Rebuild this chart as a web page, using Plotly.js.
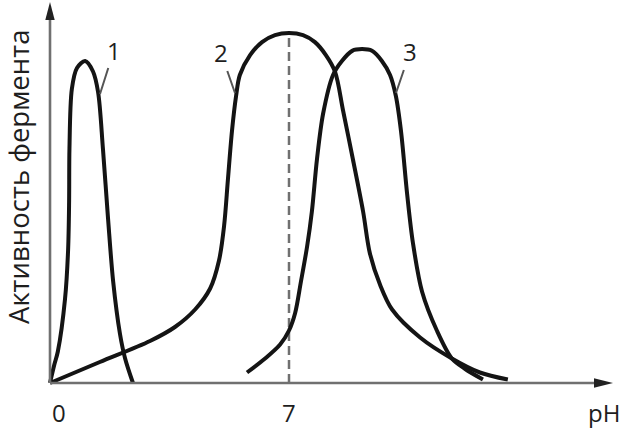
<!DOCTYPE html>
<html>
<head>
<meta charset="utf-8">
<script src="https://cdn.plot.ly/plotly-3.0.1.min.js"></script>
<style>
  html, body { margin: 0; padding: 0; background: #fff; }
  #chart { width: 626px; height: 435px; }
</style>
</head>
<body>
<div id="chart"></div>
<script>
// ---- Data (pH vs. relative enzyme activity) ----
const ph1  = [0, 0.12, 0.23, 0.44, 0.53, 0.56, 0.57, 0.64, 0.79, 1.03, 1.26, 1.41, 1.55, 1.70, 1.85, 2.05, 2.20, 2.43];
const act1 = [0, 0.05, 0.09, 0.24, 0.38, 0.52, 0.67, 0.84, 0.90, 0.92, 0.89, 0.83, 0.67, 0.47, 0.29, 0.14, 0.07, 0.00];

const ph2  = [0, 1.46, 2.93, 3.66, 4.25, 4.69, 4.95, 5.10, 5.21, 5.33, 5.45, 5.56, 5.86, 6.21, 6.59, 7.00, 7.41, 7.76, 8.08, 8.35, 8.58, 8.87, 9.17, 9.37, 9.67, 10.02, 10.84, 11.77, 12.59, 13.41];
const act2 = [0, 0.06, 0.12, 0.16, 0.21, 0.27, 0.35, 0.45, 0.58, 0.72, 0.82, 0.88, 0.937, 0.974, 0.994, 1.00, 0.994, 0.974, 0.937, 0.889, 0.78, 0.64, 0.49, 0.37, 0.28, 0.21, 0.13, 0.07, 0.03, 0.01];

const ph3  = [5.77, 6.30, 6.74, 7.00, 7.18, 7.35, 7.53, 7.67, 7.82, 8.00, 8.29, 8.55, 8.85, 9.14, 9.43, 9.72, 9.96, 10.13, 10.28, 10.46, 10.63, 10.90, 11.33, 11.77, 12.16, 12.68];
const act3 = [0.03, 0.07, 0.11, 0.15, 0.20, 0.29, 0.39, 0.49, 0.64, 0.77, 0.88, 0.92, 0.949, 0.954, 0.949, 0.92, 0.88, 0.82, 0.72, 0.54, 0.40, 0.26, 0.15, 0.07, 0.04, 0.01];

const curveNames = ['1', '2', '3'];
const tickLabels = ['0', '7'];
const tickValues = [0, 7];
const neutralPH = 7;
const xTitle = 'pH';
const yTitle = 'Активность фермента';

// ---- Layout geometry (pixels) ----
const W = 626, H = 435;
const X0 = 50, Y0 = 383;          // pixel position of origin
const KX = 239 / 7, KY = 350;     // pixels per pH unit, pixels per activity unit
const PX = p => p / W;            // pixel -> paper
const PY = p => 1 - p / H;
const toX = p => (p - X0) / KX;   // pixel -> data
const toY = p => (Y0 - p) / KY;

const curveStyle = { color: '#141414', width: 4, shape: 'spline', smoothing: 0.9 };
const traces = [
  { x: ph1, y: act1, mode: 'lines', line: curveStyle, name: curveNames[0], hoverinfo: 'skip' },
  { x: ph2, y: act2, mode: 'lines', line: curveStyle, name: curveNames[1], hoverinfo: 'skip' },
  { x: ph3, y: act3, mode: 'lines', line: curveStyle, name: curveNames[2], hoverinfo: 'skip' }
];

const peak2 = Math.max.apply(null, act2);
const axisColor = '#707070';
const font = { family: '"Open Sans", "DejaVu Sans", sans-serif', color: '#1e1e1e' };

const shapes = [
  // dashed line at neutral pH up to the peak of curve 2
  { type: 'line', xref: 'x', yref: 'y', x0: neutralPH, x1: neutralPH, y0: 0, y1: peak2,
    line: { color: '#707070', width: 2.5, dash: '9px,5px' }, layer: 'below' },
  // x axis
  { type: 'line', xref: 'x', yref: 'y', x0: 0, x1: toX(597), y0: 0, y1: 0,
    line: { color: axisColor, width: 2.6 } },
  // y axis
  { type: 'line', xref: 'x', yref: 'y', x0: 0, x1: 0, y0: 0, y1: toY(16),
    line: { color: axisColor, width: 2.6 } },
  // arrowheads
  { type: 'path', xref: 'paper', yref: 'paper',
    path: `M${PX(613)},${PY(383)} L${PX(594)},${PY(378.3)} L${PX(594)},${PY(387.7)} Z`,
    fillcolor: '#222', line: { width: 0 } },
  { type: 'path', xref: 'paper', yref: 'paper',
    path: `M${PX(50)},${PY(2)} L${PX(45.3)},${PY(20)} L${PX(54.7)},${PY(20)} Z`,
    fillcolor: '#222', line: { width: 0 } }
];

const annotations = [
  { xref: 'paper', yref: 'paper', x: PX(19), y: PY(177), text: yTitle, textangle: -90,
    showarrow: false, xanchor: 'center', yanchor: 'middle', font: Object.assign({ size: 27.5 }, font) },
  { xref: 'x', yref: 'paper', x: tickValues[0] + toX(59), y: PY(412), text: tickLabels[0],
    showarrow: false, xanchor: 'center', yanchor: 'middle', font: Object.assign({ size: 24 }, font) },
  { xref: 'x', yref: 'paper', x: tickValues[1], y: PY(412), text: tickLabels[1],
    showarrow: false, xanchor: 'center', yanchor: 'middle', font: Object.assign({ size: 24 }, font) },
  { xref: 'paper', yref: 'paper', x: PX(604), y: PY(412), text: xTitle,
    showarrow: false, xanchor: 'center', yanchor: 'middle', font: Object.assign({ size: 24 }, font) },
  // curve labels with leader lines
  { xref: 'paper', yref: 'paper', x: PX(100), y: PY(94), ax: 14, ay: -44, text: curveNames[0],
    showarrow: true, arrowhead: 0, arrowwidth: 2, arrowcolor: '#555', standoff: 0,
    font: Object.assign({ size: 24 }, font) },
  { xref: 'paper', yref: 'paper', x: PX(235), y: PY(93), ax: -14, ay: -40, text: curveNames[1],
    showarrow: true, arrowhead: 0, arrowwidth: 2, arrowcolor: '#555', standoff: 0,
    font: Object.assign({ size: 24 }, font) },
  { xref: 'paper', yref: 'paper', x: PX(396), y: PY(93), ax: 14, ay: -41, text: curveNames[2],
    showarrow: true, arrowhead: 0, arrowwidth: 2, arrowcolor: '#555', standoff: 0,
    font: Object.assign({ size: 24 }, font) }
];

const layout = {
  width: W, height: H,
  margin: { l: 0, r: 0, t: 0, b: 0 },
  paper_bgcolor: '#fff', plot_bgcolor: '#fff',
  showlegend: false,
  xaxis: { range: [toX(0), toX(W)], visible: false, fixedrange: true },
  yaxis: { range: [toY(H), toY(0)], visible: false, fixedrange: true },
  shapes: shapes,
  annotations: annotations
};

Plotly.newPlot('chart', traces, layout, { staticPlot: true, displayModeBar: false });
</script>
</body>
</html>
